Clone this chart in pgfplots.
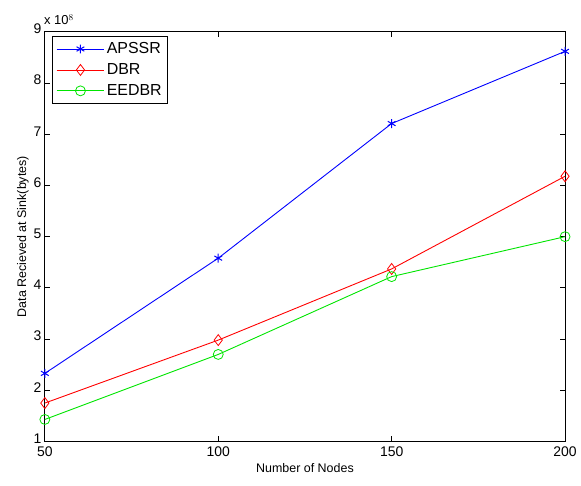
\documentclass[border=0pt]{standalone}
\usepackage{fontspec}
\setmainfont{Liberation Sans}
\usepackage{pgfplots}
\pgfplotsset{compat=1.18}
\begin{document}
\fontsize{13}{15}\selectfont
\begin{tikzpicture}
\begin{axis}[
  scale only axis,
  width=522pt, height=411pt,
  xmin=50, xmax=200, ymin=1e8, ymax=9e8,
  xtick={50,100,150,200},
  ytick={1e8,2e8,3e8,4e8,5e8,6e8,7e8,8e8,9e8},
  scaled y ticks=base 10:-8,
  ytick scale label code/.code={},
  tick align=inside,
  major tick length=5pt,
  xtick pos=both, ytick pos=both,
  axis line style={line width=1.1pt},
  tick style={black, line width=0.8pt},
  /pgf/number format/assume math mode=true,
  tick label style={font=\fontsize{14}{16}\selectfont},
  yticklabel style={xshift=1pt, yshift=3pt},
  xticklabel style={yshift=-1pt},
  xlabel={Number of Nodes},
  ylabel={Data Recieved at Sink(bytes)},
  label style={font=\fontsize{12.5}{14}\selectfont},
  xlabel style={yshift=2pt},
  ylabel style={yshift=-4pt},
  legend style={at={(0.013,0.99)}, anchor=north west, draw=black, line width=1pt,
    font=\fontsize{16}{18}\selectfont, row sep=4pt, inner xsep=4pt, inner ysep=4pt,
    /tikz/every even column/.append style={column sep=3pt}},
  legend cell align=left,
  legend image code/.code={\draw[#1] (0pt,0pt) -- (48pt,0pt); \draw[#1, only marks] plot coordinates {(24pt,0pt)};},
  clip=false,
]
\addplot[blue, line width=0.9pt, mark=asterisk, mark size=4.5pt, mark options={line width=1pt}] coordinates {
  (50,2.33e8) (100,4.58e8) (150,7.21e8) (200,8.62e8)};
\addlegendentry{APSSR}
\addplot[red, line width=0.9pt, mark=diamond, mark size=5.5pt, mark options={line width=0.8pt}] coordinates {
  (50,1.75e8) (100,2.98e8) (150,4.37e8) (200,6.18e8)};
\addlegendentry{DBR}
\addplot[green!90!black, line width=0.9pt, mark=o, mark size=5pt, mark options={line width=0.8pt}] coordinates {
  (50,1.43e8) (100,2.70e8) (150,4.22e8) (200,5.00e8)};
\addlegendentry{EEDBR}
\end{axis}
\node[anchor=south west, font=\fontsize{13}{15}\selectfont, inner sep=0pt] at ([xshift=-1pt,yshift=7pt]current axis.north west) {x 10$^{\scriptstyle 8}$};
\path[use as bounding box] ([xshift=-45pt,yshift=-44pt]current axis.south west) rectangle ([xshift=14pt,yshift=32pt]current axis.north east);
\end{tikzpicture}
\end{document}
